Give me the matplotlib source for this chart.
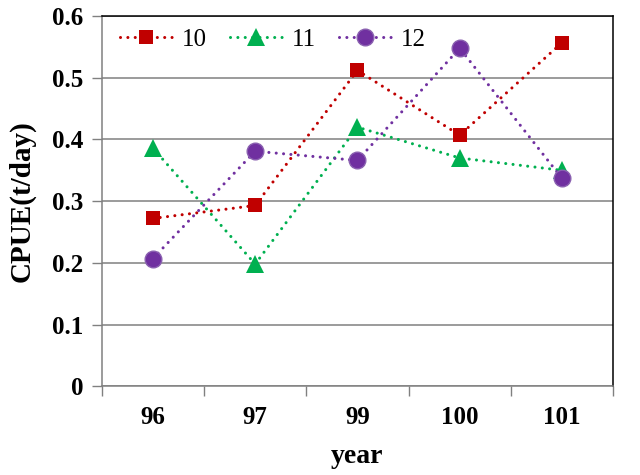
import matplotlib

matplotlib.use("Agg")
import matplotlib.pyplot as plt
from matplotlib.ticker import FixedLocator

years = ["96", "97", "99", "100", "101"]
cpue_10 = [0.272, 0.293, 0.512, 0.407, 0.557]
cpue_11 = [0.386, 0.198, 0.420, 0.370, 0.350]
cpue_12 = [0.207, 0.381, 0.366, 0.548, 0.337]
y_ticks = [0, 0.1, 0.2, 0.3, 0.4, 0.5, 0.6]
y_labels = ["0", "0.1", "0.2", "0.3", "0.4", "0.5", "0.6"]

plt.rcParams["font.family"] = ["Liberation Serif", "DejaVu Serif"]

fig = plt.figure(figsize=(6.4, 4.75), dpi=100)
ax = fig.add_axes([0.159, 0.187, 0.799, 0.779])

x = range(len(years))
dots = (0, (0.01, 2.4))
common = dict(linestyle=dots, linewidth=2.2, dash_capstyle="round", zorder=3)
ax.plot(x, cpue_10, color="#C00000", marker="s", markersize=10,
        markeredgewidth=0, label="10", **common)
ax.plot(x, cpue_11, color="#00B050", marker="^", markersize=12.5,
        markeredgewidth=0, label="11", **common)
ax.plot(x, cpue_12, color="#7030A0", marker="o", markersize=12,
        markeredgecolor="#8a60b0", markeredgewidth=1.0, label="12", **common)

ax.set_xlim(-0.5, len(years) - 0.5)
ax.set_ylim(0, 0.6)
ax.set_yticks(y_ticks)
ax.set_yticklabels(y_labels)
ax.set_xticks(list(x))
ax.set_xticklabels(years)
ax.xaxis.set_minor_locator(FixedLocator([i - 0.5 for i in range(len(years) + 1)]))
ax.tick_params(axis="x", which="major", length=0, pad=14, labelsize=18)
ax.tick_params(axis="x", which="minor", length=7, width=1, color="#808080",
               direction="out")
ax.tick_params(axis="y", length=7, width=1, color="#808080", labelsize=18, pad=6)
for lab in ax.get_xticklabels() + ax.get_yticklabels():
    lab.set_fontweight("bold")

ax.grid(axis="y", color="#808080", linewidth=1.1)
ax.set_axisbelow(True)
ax.spines["left"].set_color("#808080")
ax.spines["bottom"].set_color("#808080")
ax.spines["top"].set_color("black")
ax.spines["right"].set_color("black")
for s in ax.spines.values():
    s.set_linewidth(1.1)

ax.set_xlabel("year", fontsize=20, fontweight="bold", labelpad=11)
ax.set_ylabel("CPUE(t/day)", fontsize=21, fontweight="bold", labelpad=12)

ax.legend(loc="center left", ncol=3, frameon=False, fontsize=18,
          handlelength=2.1, columnspacing=0.9, handletextpad=0.4,
          borderpad=0, borderaxespad=0, bbox_to_anchor=(0.035, 0.937))

fig.savefig("out.png", dpi=100)
